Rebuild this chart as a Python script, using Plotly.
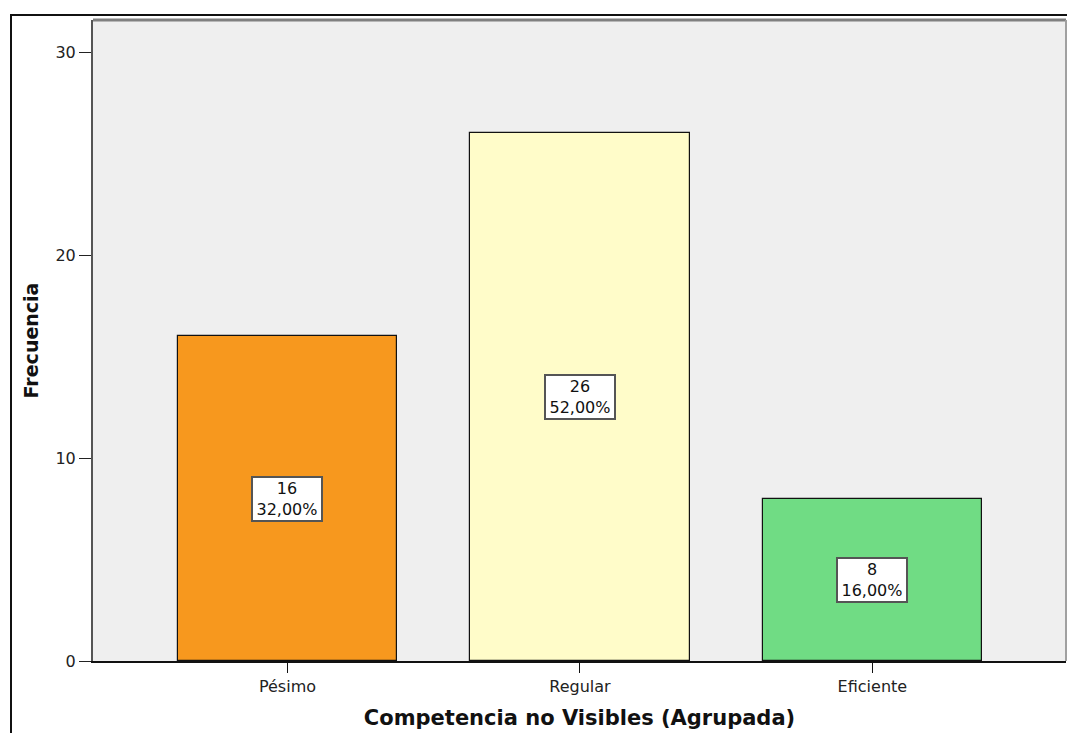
import plotly.graph_objects as go

# Frequency of grouped "Competencia no Visibles"
categories = ["Pésimo", "Regular", "Eficiente"]
counts = [16, 26, 8]
percent_labels = ["32,00%", "52,00%", "16,00%"]
bar_colors = ["#f7981e", "#fffcc9", "#70dc84"]
y_ticks = [0, 10, 20, 30]

W, H = 1067, 733
L, R, T, B = 93, 1, 20, 72
pw, ph = W - L - R, H - T - B


def px_x(px):
    return (px - L) / pw


def px_y(py):
    return (H - B - py) / ph


fig = go.Figure()
fig.add_trace(go.Bar(
    x=categories,
    y=counts,
    width=0.75,
    marker=dict(color=bar_colors, line=dict(color="#111111", width=1.2)),
    hoverinfo="skip",
))

# Count / percent boxes at the middle of each bar
for cat, n, pct in zip(categories, counts, percent_labels):
    fig.add_annotation(
        x=cat, y=n / 2, xref="x", yref="y",
        text=f"{n}<br>{pct}",
        showarrow=False,
        font=dict(family="DejaVu Sans", size=16, color="#111111"),
        bgcolor="white",
        bordercolor="#555555",
        borderwidth=2,
        borderpad=1,
        width=66, height=40,
        align="center", valign="middle",
    )

shapes = [
    # outer frame
    dict(type="rect", xref="paper", yref="paper",
         x0=px_x(11), x1=px_x(1075), y0=px_y(745), y1=px_y(15),
         line=dict(color="#111111", width=2), fillcolor="rgba(0,0,0,0)", layer="above"),
    # top and right edges of the plotting area
    dict(type="line", xref="paper", yref="paper", x0=0, x1=1, y0=1, y1=1,
         line=dict(color="#808080", width=3), layer="above"),
    dict(type="line", xref="paper", yref="paper", x0=1, x1=1, y0=0, y1=1,
         line=dict(color="#a0a0a0", width=2), layer="above"),
]

fig.update_layout(
    width=W, height=H,
    margin=dict(l=L, r=R, t=T, b=B, pad=0),
    paper_bgcolor="white",
    plot_bgcolor="#efefef",
    showlegend=False,
    bargap=0,
    shapes=shapes,
    font=dict(family="DejaVu Sans", color="#222222"),
)

fig.update_xaxes(
    type="category",
    range=[-0.665, 2.662],
    showgrid=False,
    showline=True, linecolor="#111111", linewidth=2,
    ticks="outside", ticklen=10, tickwidth=1, tickcolor="#111111",
    tickfont=dict(family="DejaVu Sans", size=16, color="#222222"),
    title=dict(text="<b>Competencia no Visibles (Agrupada)</b>",
               font=dict(family="DejaVu Sans", size=21, color="#111111"),
               standoff=15),
)

fig.update_yaxes(
    range=[0, 31.58],
    tickvals=y_ticks,
    showgrid=False, zeroline=False,
    showline=True, linecolor="#555555", linewidth=2,
    ticks="outside", ticklen=12, tickwidth=1, tickcolor="#222222",
    tickfont=dict(family="DejaVu Sans", size=16, color="#222222"),
    title=dict(text="<b>Frecuencia</b>",
               font=dict(family="DejaVu Sans", size=19, color="#111111"),
               standoff=12),
)

fig.write_html("out.html")
